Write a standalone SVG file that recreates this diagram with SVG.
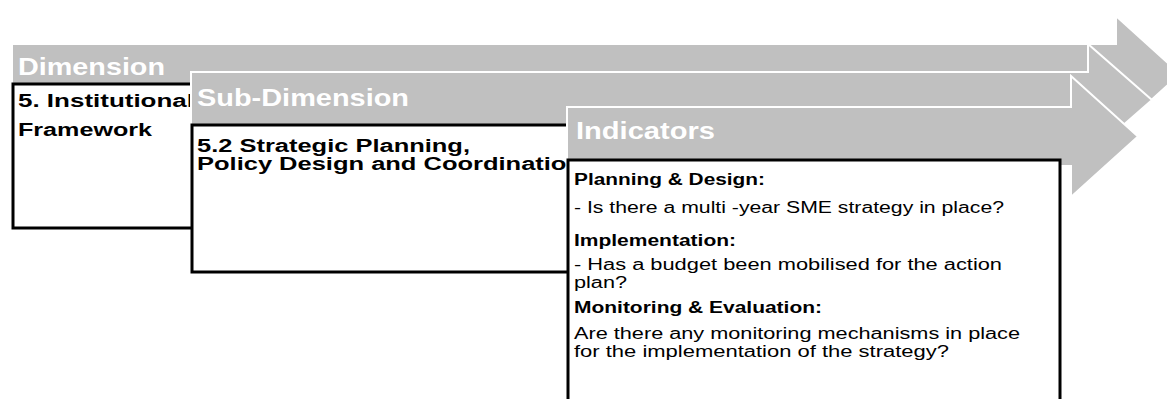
<svg xmlns="http://www.w3.org/2000/svg" width="1167" height="399" viewBox="0 0 1167 399">
  <style>
    .arrow { fill: #c0c0c0; stroke: #ffffff; stroke-width: 2; }
    .box { fill: #ffffff; stroke: #000000; stroke-width: 3; }
    .hdr { font-family: "Liberation Sans", Arial, sans-serif; font-weight: bold; font-size: 24px; fill: #ffffff; }
    .ttl { font-family: "Liberation Sans", Arial, sans-serif; font-weight: bold; font-size: 17.5px; fill: #000000; }
    .ib { font-family: "Liberation Sans", Arial, sans-serif; font-weight: bold; font-size: 16px; fill: #000000; }
    .ir { font-family: "Liberation Sans", Arial, sans-serif; font-size: 16px; fill: #000000; }
  </style>
  <rect width="1167" height="399" fill="#ffffff"/>
  <g id="dimension">
    <polygon class="arrow" points="12,44 1116,44 1116,16 1180,74 1116,132 1116,104 12,104"/>
    <text class="hdr" x="18" y="75" textLength="147" lengthAdjust="spacingAndGlyphs">Dimension</text>
    <rect class="box" x="13" y="84" width="300" height="144"/>
    <text class="ttl" x="18" y="107" textLength="176" lengthAdjust="spacingAndGlyphs">5. Institutional</text>
    <text class="ttl" x="18" y="136" textLength="134" lengthAdjust="spacingAndGlyphs">Framework</text>
  </g>
  <g id="sub-dimension">
    <polygon class="arrow" points="191,72 1088,72 1088,44 1152,100 1088,156 1088,128 191,128"/>
    <text class="hdr" x="197" y="106" textLength="212" lengthAdjust="spacingAndGlyphs">Sub-Dimension</text>
    <rect class="box" x="192" y="125" width="500" height="147"/>
    <text class="ttl" x="197" y="152" textLength="273" lengthAdjust="spacingAndGlyphs">5.2 Strategic Planning,</text>
    <text class="ttl" x="197" y="170" textLength="385" lengthAdjust="spacingAndGlyphs">Policy Design and Coordination</text>
  </g>
  <g id="indicators">
    <polygon class="arrow" points="567,107 1071,107 1071,76 1138,136.5 1071,197 1071,166 567,166"/>
    <text class="hdr" x="576" y="139" textLength="139" lengthAdjust="spacingAndGlyphs">Indicators</text>
    <rect class="box" x="568" y="160" width="492" height="260"/>
    <text class="ib" x="574" y="185" textLength="191" lengthAdjust="spacingAndGlyphs">Planning &amp; Design:</text>
    <text class="ir" x="574" y="213" textLength="430" lengthAdjust="spacingAndGlyphs">- Is there a multi -year SME strategy in place?</text>
    <text class="ib" x="574" y="246" textLength="162" lengthAdjust="spacingAndGlyphs">Implementation:</text>
    <text class="ir" x="574" y="270" textLength="428" lengthAdjust="spacingAndGlyphs">- Has a budget been mobilised for the action</text>
    <text class="ir" x="574" y="288" textLength="53" lengthAdjust="spacingAndGlyphs">plan?</text>
    <text class="ib" x="574" y="313" textLength="248" lengthAdjust="spacingAndGlyphs">Monitoring &amp; Evaluation:</text>
    <text class="ir" x="574" y="339" textLength="446" lengthAdjust="spacingAndGlyphs">Are there any monitoring mechanisms in place</text>
    <text class="ir" x="574" y="357" textLength="375" lengthAdjust="spacingAndGlyphs">for the implementation of the strategy?</text>
  </g>
  <g id="connectors"/>
</svg>
